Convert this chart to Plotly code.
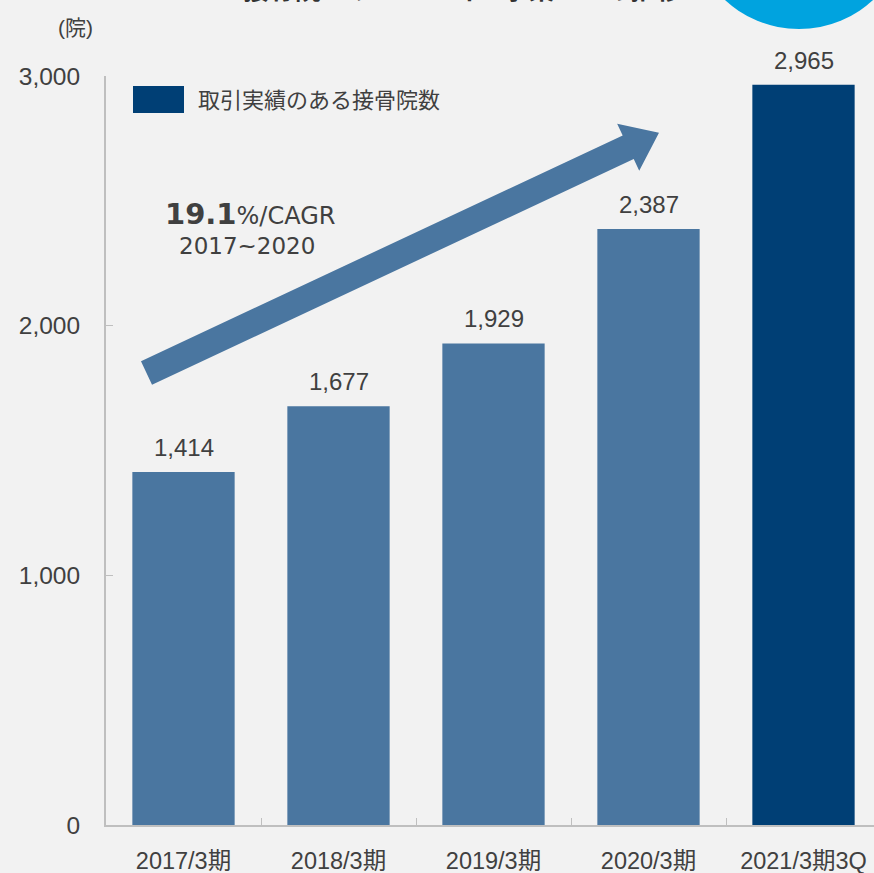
import math
import plotly.graph_objects as go

# Number of bone-setting clinics with transactions, by fiscal period
periods = ["2017/3期", "2018/3期", "2019/3期", "2020/3期", "2021/3期3Q"]
clinics = [1414, 1677, 1929, 2387, 2965]
bar_colors = ["#4A76A0", "#4A76A0", "#4A76A0", "#4A76A0", "#003F75"]
value_labels = [f"{v:,}" for v in clinics]

series_name = "取引実績のある接骨院数"
y_ticks = [0, 1000, 2000, 3000]

W, H = 874, 873
ML, MR, MT, MB = 106, 0, 76, 48
PW, PH = W - ML - MR, H - MT - MB

FONT = "Liberation Sans, Arial, Noto Sans CJK JP, sans-serif"
CAGR_FONT = "DejaVu Sans, Noto Sans CJK JP, sans-serif"
TEXT = "#404040"


def px_to_paper(px, py):
    return (px - ML) / PW, (H - MB - py) / PH


fig = go.Figure(
    go.Bar(
        x=periods,
        y=clinics,
        marker=dict(color=bar_colors, line=dict(width=0)),
        width=0.66,
        showlegend=False,
        hoverinfo="x+y",
    )
)

# value labels above each bar
for p, v, t in zip(periods, clinics, value_labels):
    fig.add_annotation(
        x=p, y=v, text=t, showarrow=False, xanchor="center", yanchor="bottom", yshift=9,
        font=dict(size=24, color=TEXT, family=FONT),
    )

# growth arrow (pixel geometry converted to paper space)
tail = (146.5, 373.0)
ang = math.atan2(-225, 480)
ux, uy = math.cos(ang), math.sin(ang)
nx, ny = -uy, ux
shaft_len, half_w, head_half, head_len = 532, 13, 26, 34
bx, by = tail[0] + ux * shaft_len, tail[1] + uy * shaft_len
pts = [
    (tail[0] + nx * half_w, tail[1] + ny * half_w),
    (bx + nx * half_w, by + ny * half_w),
    (bx + nx * head_half, by + ny * head_half),
    (bx + ux * head_len, by + uy * head_len),
    (bx - nx * head_half, by - ny * head_half),
    (bx - nx * half_w, by - ny * half_w),
    (tail[0] - nx * half_w, tail[1] - ny * half_w),
]
path = "M " + " L ".join("%.5f,%.5f" % px_to_paper(*p) for p in pts) + " Z"
fig.add_shape(type="path", path=path, xref="paper", yref="paper",
              fillcolor="#4A76A0", line=dict(width=0), layer="above")


def note(px, py, text, size, family=FONT, xanchor="center", yanchor="middle", color=TEXT):
    x, y = px_to_paper(px, py)
    fig.add_annotation(
        x=x, y=y, xref="paper", yref="paper", text=text, showarrow=False,
        xanchor=xanchor, yanchor=yanchor, font=dict(size=size, color=color, family=family),
    )


# CAGR annotation
note(250, 214, "<b>19.1</b><span style='font-size:24px'>%/CAGR</span>", 29, family=CAGR_FONT)
note(247, 246, "2017~2020", 23, family=CAGR_FONT)

# legend swatch and label
x0, y0 = px_to_paper(133, 113)
x1, y1 = px_to_paper(184, 86)
fig.add_shape(type="rect", xref="paper", yref="paper", x0=x0, y0=y0, x1=x1, y1=y1,
              fillcolor="#003F75", line=dict(width=0))
note(196, 100, series_name, 22, xanchor="left")

# unit label
note(75, 27, "(院)", 21)

# title running off the top edge
note(462, 8, "<b>接骨院ソリューション事業 KPIの推移</b>", 26,
     family="Noto Sans CJK JP, sans-serif", yanchor="bottom", color="#333333")

# decorative badge circle in the corner
cx0, cy1 = px_to_paper(690, 29)
cx1, cy0 = px_to_paper(908, -189)
fig.add_shape(type="circle", xref="paper", yref="paper", x0=cx0, x1=cx1, y0=cy1, y1=cy0,
              fillcolor="#00A3DF", line=dict(width=0), layer="above")

fig.update_layout(
    width=W, height=H,
    margin=dict(l=ML, r=MR, t=MT, b=MB, pad=0),
    paper_bgcolor="#F2F2F2", plot_bgcolor="#F2F2F2",
    font=dict(family=FONT, color=TEXT, size=22),
    xaxis=dict(
        type="category", range=[-0.5, -0.5 + PW / 155.0],
        showgrid=False, showline=True, linecolor="#BFBFBF", linewidth=2,
        ticks="inside", tickson="boundaries", ticklen=7, tickcolor="#BFBFBF",
        tickfont=dict(size=23.5, color=TEXT), ticklabelstandoff=14,
        zeroline=False,
    ),
    yaxis=dict(
        range=[0, 3000], tickvals=y_ticks, tickformat=",d",
        showgrid=False, showline=True, linecolor="#BFBFBF", linewidth=2,
        ticks="inside", ticklen=7, tickcolor="#BFBFBF",
        tickfont=dict(size=24.5, color=TEXT), ticklabelstandoff=19,
        zeroline=False,
    ),
)

fig.write_html("out.html")
